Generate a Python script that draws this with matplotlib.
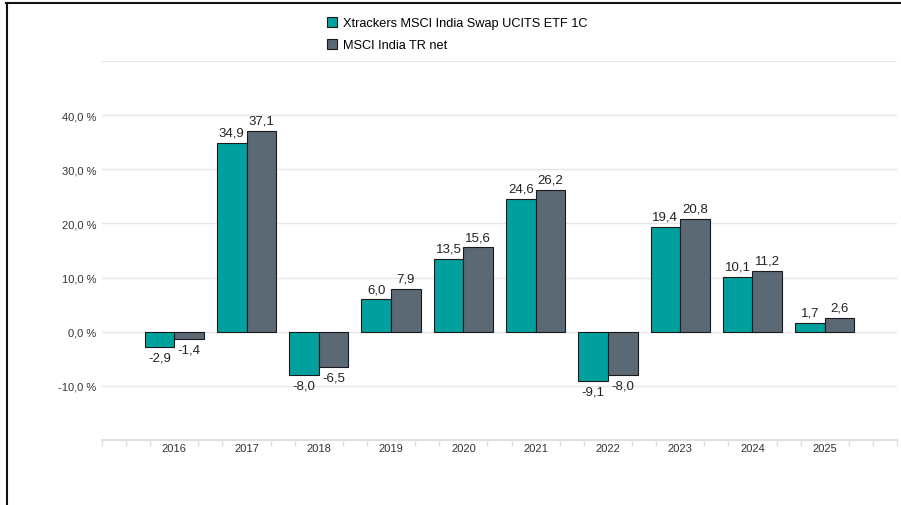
import matplotlib
matplotlib.use("Agg")
import matplotlib.pyplot as plt
from matplotlib.lines import Line2D
import numpy as np

plt.rcParams['font.family'] = ['Liberation Sans', 'DejaVu Sans']

years = ["2016", "2017", "2018", "2019", "2020", "2021", "2022", "2023", "2024", "2025"]
etf = [-2.9, 34.9, -8.0, 6.0, 13.5, 24.6, -9.1, 19.4, 10.1, 1.7]
index = [-1.4, 37.1, -6.5, 7.9, 15.6, 26.2, -8.0, 20.8, 11.2, 2.6]
series_names = ["Xtrackers MSCI India Swap UCITS ETF 1C", "MSCI India TR net"]
yticks = [-20, -10, 0, 10, 20, 30, 40, 50]
ytick_labels = ["", "-10,0 %", "0,0 %", "10,0 %", "20,0 %", "30,0 %", "40,0 %", ""]

teal = "#00A09E"
slate = "#5B6975"
text_c = "#222222"

fig = plt.figure(figsize=(9.01, 5.06), dpi=100)
ax = fig.add_axes([102/901, 1-441/506, (897-102)/901, (441-62)/506])

x = np.arange(len(years))
w = 0.41
b1 = ax.bar(x - w/2, etf, w, color=teal, edgecolor="#1a1a1a", linewidth=0.8, zorder=3, label=series_names[0])
b2 = ax.bar(x + w/2, index, w, color=slate, edgecolor="#1a1a1a", linewidth=0.8, zorder=3, label=series_names[1])

for bars, vals in ((b1, etf), (b2, index)):
    for r, v in zip(bars, vals):
        cx = r.get_x() + r.get_width()/2
        s = f"{v:.1f}".replace(".", ",")
        if v >= 0:
            ax.annotate(s, (cx, v), xytext=(0, 3), textcoords="offset points",
                        ha="center", va="bottom", fontsize=9.5, color=text_c)
        else:
            ax.annotate(s, (cx, v), xytext=(0, -3), textcoords="offset points",
                        ha="center", va="top", fontsize=9.5, color=text_c)

ax.set_xlim(-1, 10)
ax.set_ylim(-20, 50)
ax.set_yticks(yticks)
ax.set_yticklabels(ytick_labels)
ax.grid(axis="y", color="#e6e6e6", linewidth=1, zorder=0)
ax.tick_params(axis="y", length=0, pad=4, labelsize=8, labelcolor="#333333")

ax.set_xticks(x)
ax.set_xticklabels(years)
ax.tick_params(axis="x", length=0, pad=2, labelsize=8, labelcolor="#333333")
minor = [k/3 for k in range(-3, 31) if k % 3 != 0 or k in (-3, 30)]
ax.set_xticks(minor, minor=True)
ax.tick_params(axis="x", which="minor", length=4, width=1, color="#e0e0e0")

for sp in ("top", "right", "left"):
    ax.spines[sp].set_visible(False)
ax.spines["bottom"].set_color("#e0e0e0")
ax.spines["bottom"].set_linewidth(1.5)
ax.spines["bottom"].set_position(("data", -20))

fig.legend(handles=[b1, b2], labels=series_names, loc="upper left",
           bbox_to_anchor=(327/901, 1-18/506), frameon=False, fontsize=9.2,
           handlelength=0.8, handleheight=0.8, handletextpad=0.45, labelspacing=0.75,
           borderaxespad=0, borderpad=0)

fig.add_artist(Line2D([6/901, 1], [1-4/506, 1-4/506], color="#111111", linewidth=1.5, transform=fig.transFigure))
fig.add_artist(Line2D([7/901, 7/901], [0, 1-4/506], color="#111111", linewidth=1.5, transform=fig.transFigure))

fig.savefig("out.png", dpi=100)
